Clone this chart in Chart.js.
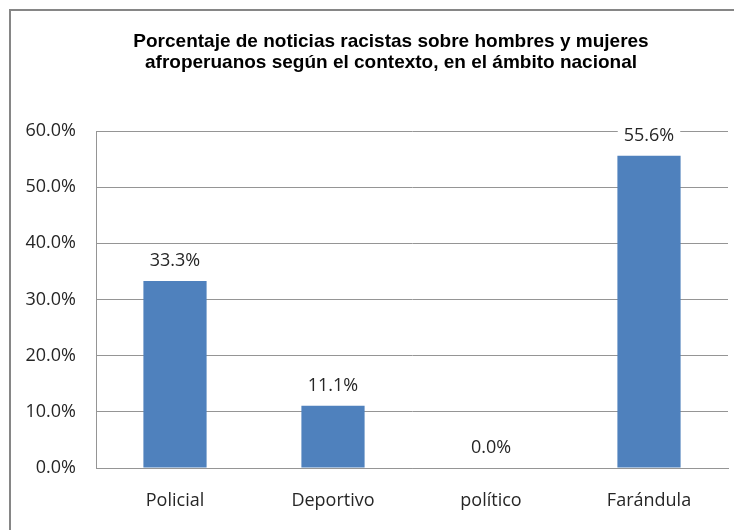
<!DOCTYPE html>
<html>
<head>
<meta charset="utf-8">
<script src="https://cdn.jsdelivr.net/npm/chart.js@4.4.1/dist/chart.umd.min.js"></script>
<style>
  html, body { margin: 0; padding: 0; background: #fff; overflow: hidden; }
  #wrap { position: relative; width: 734px; height: 530px; overflow: hidden; }
  #frame {
    position: absolute; left: 9px; top: 9px; width: 760px; height: 560px;
    border-left: 2px solid #868686; border-top: 2px solid #868686;
  }
  canvas { position: absolute; left: 0; top: 0; }
</style>
</head>
<body>
<div id="wrap">
  <div id="frame"></div>
  <canvas id="chart" width="734" height="530"></canvas>
</div>
<script>
// data
const categories = ["Policial", "Deportivo", "político", "Farándula"];
const percentages = [33.3, 11.1, 0.0, 55.6];
const titleLines = [
  "Porcentaje de noticias racistas sobre hombres y mujeres",
  "afroperuanos según el contexto, en el ámbito nacional"
];
const yMax = 60;
const yStep = 10;

const textFont = "'Open Sans', 'Noto Sans', sans-serif";
const barColor = "#4F81BD";
const gridColor = "#959595";

// title sits a bit right of the canvas centre, like the original
const titlePlugin = {
  id: "titleLines",
  afterDraw(chart) {
    const ctx = chart.ctx;
    ctx.save();
    ctx.font = "bold 19px 'Liberation Sans', Arial, sans-serif";
    ctx.fillStyle = "#000";
    ctx.textAlign = "center";
    ctx.textBaseline = "middle";
    titleLines.forEach((line, i) => ctx.fillText(line, 391, 42 + i * 21));
    ctx.restore();
  }
};

// labels above the bars, white box so the gridline breaks around them
const barLabels = {
  id: "barLabels",
  afterDatasetsDraw(chart) {
    const ctx = chart.ctx;
    const meta = chart.getDatasetMeta(0);
    ctx.save();
    ctx.font = "18px " + textFont;
    ctx.textAlign = "center";
    ctx.textBaseline = "middle";
    meta.data.forEach((bar, i) => {
      const txt = percentages[i].toFixed(1) + "%";
      const y = bar.y - 20;
      const w = ctx.measureText(txt).width;
      ctx.fillStyle = "#fff";
      ctx.fillRect(bar.x - w / 2 - 6, y - 9, w + 12, 18);
      ctx.fillStyle = "#262626";
      ctx.fillText(txt, bar.x, y);
    });
    ctx.restore();
  }
};

const chart = new Chart(document.getElementById("chart"), {
  type: "bar",
  data: {
    labels: categories,
    datasets: [{
      data: percentages,
      backgroundColor: barColor,
      borderWidth: 0,
      barPercentage: 0.4,
      categoryPercentage: 1
    }]
  },
  options: {
    responsive: false,
    animation: false,
    layout: { padding: { left: 0, right: 6, top: 131, bottom: 0 } },
    plugins: {
      legend: { display: false },
      tooltip: { enabled: false },
      title: { display: false }
    },
    scales: {
      x: {
        grid: { display: false, drawTicks: false },
        border: { color: gridColor, width: 1 },
        ticks: { color: "#262626", font: { family: textFont, size: 18 }, padding: 22 },
        afterFit(scale) { scale.height = 62; }
      },
      y: {
        min: 0,
        max: yMax,
        ticks: {
          stepSize: yStep,
          color: "#262626",
          font: { family: textFont, size: 18 },
          padding: 20,
          callback: v => v.toFixed(1) + "%"
        },
        grid: { color: gridColor, lineWidth: 1, drawTicks: false },
        border: { color: gridColor, width: 1 },
        afterFit(scale) { scale.width = 96; }
      }
    }
  },
  plugins: [barLabels, titlePlugin]
});
</script>
</body>
</html>
